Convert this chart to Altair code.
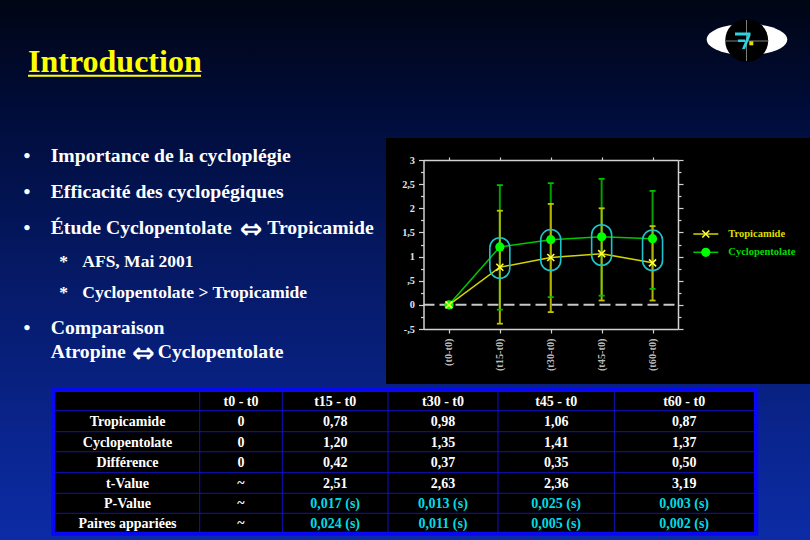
import altair as alt
import pandas as pd

# ---------------- chart data ----------------
time_labels = ["(t0-t0)", "(t15-t0)", "(t30-t0)", "(t45-t0)", "(t60-t0)"]
series_names = ["Tropicamide", "Cyclopentolate"]
tropi_mean = [0.0, 0.78, 0.98, 1.06, 0.87]
cyclo_mean = [0.0, 1.20, 1.35, 1.41, 1.37]
tropi_low = [0.0, -0.39, -0.15, 0.09, 0.09]
tropi_high = [0.0, 1.95, 2.09, 2.00, 1.63]
cyclo_low = [0.0, -0.10, 0.16, 0.19, 0.33]
cyclo_high = [0.0, 2.48, 2.52, 2.61, 2.36]
sig_times = ["(t15-t0)", "(t30-t0)", "(t45-t0)", "(t60-t0)"]
sig_top = [1.39, 1.56, 1.66, 1.55]
sig_bottom = [0.55, 0.71, 0.82, 0.71]
y_tick_values = [-0.5, -0.25, 0, 0.25, 0.5, 0.75, 1, 1.25, 1.5, 1.75, 2, 2.25, 2.5, 2.75, 3]

# ---------------- table data ----------------
table_header = ["t0 - t0", "t15 - t0", "t30 - t0", "t45 - t0", "t60 - t0"]
row_labels = ["Tropicamide", "Cyclopentolate", "Différence", "t-Value", "P-Value", "Paires appariées"]
row_tropi = ["0", "0,78", "0,98", "1,06", "0,87"]
row_cyclo = ["0", "1,20", "1,35", "1,41", "1,37"]
row_diff = ["0", "0,42", "0,37", "0,35", "0,50"]
row_tval = ["~", "2,51", "2,63", "2,36", "3,19"]
row_pval = ["~", "0,017 (s)", "0,013 (s)", "0,025 (s)", "0,003 (s)"]
row_pairs = ["~", "0,024 (s)", "0,011 (s)", "0,005 (s)", "0,002 (s)"]
highlight_rows = ["P-Value", "Paires appariées"]

# ---------------- slide text ----------------
slide_title = "Introduction"
bullet_texts = ["Importance de la cycloplégie", "Efficacité des cyclopégiques",
                "Étude Cyclopentolate ⇔ Tropicamide", "AFS, Mai 2001",
                "Cyclopentolate > Tropicamide", "Comparaison", "Atropine ⇔ Cyclopentolate"]
bullet_marks = ["•", "•", "•", "*", "*", "•", ""]
bullet_level = [0, 0, 0, 1, 1, 0, 0]
ARROW = "⇔"

# ---------------- layout (pixels) ----------------
W, H = 810, 540
PX0, PX1 = 423.5, 678.0
PY_TOP, PY_BOT = 160.0, 329.0
bullet_baselines = [162.3, 198.3, 234.0, 266.7, 298.3, 334.0, 358.3]
arrow_centers = {2: 251.3, 6: 143.5}      # x centre of the arrow glyph, per line
after_arrow_x = {2: 267.3, 6: 157.7}      # x start of the text after the arrow
legend_rows_y = [234.0, 252.3]
col_edges = [55.3, 199.7, 282.3, 388.0, 498.0, 614.3, 754.0]
row_edges = [392.0, 410.7, 431.7, 451.7, 472.7, 493.3, 513.3, 531.7]

FONT = "Liberation Serif"
COL = {
    "Tropicamide": dict(line="#d4d400", err="#b2b200", cap="#c4c400", mark="#ffff3c", text="#dede00"),
    "Cyclopentolate": dict(line="#00c800", err="#00a000", cap="#00c000", mark="#00ff00", text="#00dc00"),
}
CYAN = "#1ec4cc"
AXC = "#d2d2d2"

one = pd.DataFrame({"k": [0]})

# ---------------- background ----------------
bg = alt.Chart(one).mark_rect(
    fill=alt.LinearGradient(
        gradient="linear", x1=0, x2=0, y1=0, y2=1,
        stops=[alt.GradientStop(offset=0, color="#000514"),
               alt.GradientStop(offset=0.22, color="#000d3c"),
               alt.GradientStop(offset=0.55, color="#061b6c"),
               alt.GradientStop(offset=1, color="#0c2ca6")])
).encode(x=alt.value(0), x2=alt.value(W), y=alt.value(0), y2=alt.value(H))

title = alt.Chart(one).mark_text(
    text=slide_title, font=FONT, fontSize=32, fontWeight="bold", color="#ffff00",
    align="left", baseline="alphabetic").encode(x=alt.value(28), y=alt.value(72))
underline = alt.Chart(one).mark_rule(color="#ffff00", strokeWidth=2).encode(
    x=alt.value(28), x2=alt.value(201), y=alt.value(75.7))

# bullets: split the lines that contain the double arrow
seg_rows, arrow_rows, mark_rows = [], [], []
for i, (txt, mk, lv) in enumerate(zip(bullet_texts, bullet_marks, bullet_level)):
    fs = 19.7 if lv == 0 else 17.5
    x0 = 50.7 if lv == 0 else 82.3
    yb = bullet_baselines[i]
    if mk:
        mark_rows.append({"text": mk, "x": 27.0 if lv == 0 else 63.5, "y": yb, "fs": fs})
    if ARROW in txt:
        left, right = [s.strip() for s in txt.split(ARROW)]
        seg_rows.append({"text": left, "x": x0, "y": yb, "fs": fs})
        seg_rows.append({"text": right, "x": after_arrow_x[i], "y": yb, "fs": fs})
        arrow_rows.append({"text": ARROW, "x": arrow_centers[i], "y": yb + 3.5})
    else:
        seg_rows.append({"text": txt, "x": x0, "y": yb, "fs": fs})

bullets_text = alt.Chart(pd.DataFrame(seg_rows)).mark_text(
    font=FONT, fontWeight="bold", color="white", align="left", baseline="alphabetic"
).encode(x=alt.X("x:Q", scale=None), y=alt.Y("y:Q", scale=None),
         text="text:N", size=alt.Size("fs:Q", scale=None, legend=None))
bullets_mark = alt.Chart(pd.DataFrame(mark_rows)).mark_text(
    font=FONT, fontWeight="bold", color="white", align="center", baseline="alphabetic"
).encode(x=alt.X("x:Q", scale=None), y=alt.Y("y:Q", scale=None),
         text="text:N", size=alt.Size("fs:Q", scale=None, legend=None))
bullets_arrow = alt.Chart(pd.DataFrame(arrow_rows)).mark_text(
    font="DejaVu Sans", fontWeight="bold", fontSize=27, color="white", align="center",
    baseline="alphabetic"
).encode(x=alt.X("x:Q", scale=None), y=alt.Y("y:Q", scale=None), text="text:N")

# ---------------- logo ----------------
ELLIPSE = "M-1,0A1,0.39,0,1,0,1,0A1,0.39,0,1,0,-1,0Z"
GLYPH = ("M-12,-8.5L3.5,-8.5L3.5,-5.5L-12,-5.5Z"
         "M0.5,-5.5L3.5,-5.5L-2,8L-5,8Z"
         "M-9,-1.5L-2,-1.5L-2,1L-9,1Z")
logo_ell = alt.Chart(one).mark_point(shape=ELLIPSE, filled=True, color="#ffffff", opacity=1,
                                     size=6497).encode(x=alt.value(747), y=alt.value(39.5))
logo_disc = alt.Chart(one).mark_point(shape="circle", filled=True, color="#000000", opacity=1,
                                      size=43 * 43).encode(x=alt.value(746.7), y=alt.value(40.5))
logo_v = alt.Chart(one).mark_rule(color="#7c7c7c", strokeWidth=1).encode(
    x=alt.value(746.5), y=alt.value(20), y2=alt.value(61))
logo_h = alt.Chart(one).mark_rule(color="#7c7c7c", strokeWidth=1).encode(
    x=alt.value(725), x2=alt.value(768.5), y=alt.value(41))
logo_glyph = alt.Chart(one).mark_point(shape=GLYPH, filled=True, color="#2ad2e2", opacity=1,
                                       size=4).encode(x=alt.value(747), y=alt.value(41))
logo_dot = alt.Chart(one).mark_point(shape="square", filled=True, color="#e8dc00", opacity=1,
                                     size=16).encode(x=alt.value(751.3), y=alt.value(43.3))

# ---------------- chart panel ----------------
panel = alt.Chart(one).mark_rect(fill="#000000").encode(
    x=alt.value(386), x2=alt.value(W), y=alt.value(138), y2=alt.value(384))

rows = []
for name, mean, lo, hi in [("Tropicamide", tropi_mean, tropi_low, tropi_high),
                           ("Cyclopentolate", cyclo_mean, cyclo_low, cyclo_high)]:
    for i, (t, m, l, h) in enumerate(zip(time_labels, mean, lo, hi)):
        rows.append({"time": t, "idx": i, "series": name, "mean": m, "lo": l, "hi": h})
df = pd.DataFrame(rows)
tro = df[df.series == "Tropicamide"]
cyc = df[df.series == "Cyclopentolate"]
tro_err = tro[tro.hi > tro.lo]
cyc_err = cyc[cyc.hi > cyc.lo]
sig_df = pd.DataFrame({"time": sig_times, "top": sig_top, "bottom": sig_bottom})

xs = alt.Scale(type="point", domain=time_labels, range=[PX0, PX1], padding=0.5)
ys = alt.Scale(domain=[-0.5, 3], range=[PY_BOT, PY_TOP], nice=False, zero=False)


def xenc(axis=None):
    return alt.X("time:N", scale=xs, axis=axis, title=None)


def yenc(field, axis=None):
    return alt.Y(f"{field}:Q", scale=ys, axis=axis, title=None)


tick_len = {"condition": {"test": "datum.value % 0.5 != 0", "value": 3}, "value": 5}
axis_left = alt.Axis(
    orient="left", offset=-PX0, values=y_tick_values, grid=False, title=None, zindex=2,
    labelExpr="datum.value % 0.5 != 0 ? '' : replace(replace(toString(datum.value), '0.', '.'), '.', ',')",
    labelFont=FONT, labelFontWeight="bold", labelFontSize=10.3, labelColor="#e4e4e4",
    labelPadding=4, labelFlush=False, labelOverlap=False, labelBound=False,
    tickSize=tick_len, tickColor=AXC, tickWidth=1.2, domainColor=AXC, domainWidth=1.5)
axis_bottom = alt.Axis(
    orient="bottom", offset=-(H - PY_BOT), grid=False, title=None, labelAngle=-90, zindex=2,
    labelFont=FONT, labelFontWeight="bold", labelFontSize=10.3, labelColor="#bcbcbc",
    labelPadding=5, labelOverlap=False, labelBound=False,
    tickSize=4, tickColor=AXC, tickWidth=1.2, domainColor=AXC, domainWidth=1.5)
axis_top = alt.Axis(
    orient="top", offset=-PY_TOP, grid=False, title=None, labels=False, zindex=2,
    tickSize=3, tickColor=AXC, tickWidth=1.2, domainColor=AXC, domainWidth=1.5)
axis_right = alt.Axis(
    orient="right", offset=-(W - PX1), values=y_tick_values, grid=False, title=None, labels=False,
    zindex=2, tickSize=tick_len, tickColor=AXC, tickWidth=1.2, domainColor=AXC, domainWidth=1.5)

zero_line = alt.Chart(one).mark_rule(color="#c8c8c8", strokeWidth=2, strokeDash=[11, 5]).encode(
    x=alt.value(PX0), x2=alt.value(PX1),
    y=alt.Y(datum=0, type="quantitative", scale=ys, axis=None))

err_c = alt.Chart(cyc_err).mark_rule(color=COL["Cyclopentolate"]["err"], strokeWidth=2).encode(
    x=xenc(), y=yenc("lo"), y2="hi:Q")
err_t = alt.Chart(tro_err).mark_rule(color=COL["Tropicamide"]["err"], strokeWidth=2).encode(
    x=xenc(), y=yenc("lo"), y2="hi:Q")
cap_c = alt.Chart(cyc_err).transform_fold(["lo", "hi"], as_=["end", "v"]).mark_tick(
    color=COL["Cyclopentolate"]["cap"], size=6, thickness=1.8, orient="horizontal", opacity=1
).encode(x=xenc(), y=yenc("v"))
cap_t = alt.Chart(tro_err).transform_fold(["lo", "hi"], as_=["end", "v"]).mark_tick(
    color=COL["Tropicamide"]["cap"], size=6, thickness=1.8, orient="horizontal", opacity=1
).encode(x=xenc(), y=yenc("v"))

line_c = alt.Chart(cyc).mark_line(color=COL["Cyclopentolate"]["line"], strokeWidth=1.5).encode(
    x=xenc(axis_bottom), y=yenc("mean", axis_left), order="idx:Q")
line_t = alt.Chart(tro).mark_line(color=COL["Tropicamide"]["line"], strokeWidth=1.5).encode(
    x=xenc(axis_top), y=yenc("mean", axis_right), order="idx:Q")

capsules = alt.Chart(sig_df).mark_bar(
    size=20, cornerRadius=10, fillOpacity=0, stroke=CYAN, strokeWidth=1.6
).encode(x=xenc(), y=yenc("bottom"), y2="top:Q")

X_SHAPE = "M-1,-1L1,1M-1,1L1,-1"
pts_c = alt.Chart(cyc).mark_point(shape="circle", filled=True, size=85, opacity=1,
                                  color=COL["Cyclopentolate"]["mark"]).encode(x=xenc(), y=yenc("mean"))
pts_t = alt.Chart(tro).mark_point(shape=X_SHAPE, filled=False, size=49, opacity=1, strokeWidth=1.6,
                                  color=COL["Tropicamide"]["mark"]).encode(x=xenc(), y=yenc("mean"))

# legend (manual)
leg = pd.DataFrame({"series": series_names, "y": legend_rows_y,
                    "line": [COL[s]["line"] for s in series_names],
                    "text": [COL[s]["text"] for s in series_names],
                    "x0": [693.3, 693.3], "x1": [718.3, 718.3], "xm": [705.8, 705.8], "xt": [728.3, 728.3]})
leg_rule = alt.Chart(leg).mark_rule(strokeWidth=1.5).encode(
    x=alt.X("x0:Q", scale=None), x2="x1:Q", y=alt.Y("y:Q", scale=None),
    color=alt.Color("line:N", scale=None))
leg_c = alt.Chart(leg[leg.series == "Cyclopentolate"]).mark_point(
    shape="circle", filled=True, size=85, opacity=1, color=COL["Cyclopentolate"]["mark"]
).encode(x=alt.X("xm:Q", scale=None), y=alt.Y("y:Q", scale=None))
leg_t = alt.Chart(leg[leg.series == "Tropicamide"]).mark_point(
    shape=X_SHAPE, filled=False, size=49, opacity=1, strokeWidth=1.6, color=COL["Tropicamide"]["mark"]
).encode(x=alt.X("xm:Q", scale=None), y=alt.Y("y:Q", scale=None))
leg_text = alt.Chart(leg).mark_text(
    font=FONT, fontWeight="bold", fontSize=10.5, align="left", baseline="middle"
).encode(x=alt.X("xt:Q", scale=None), y=alt.Y("y:Q", scale=None), text="series:N",
         color=alt.Color("text:N", scale=None))

# ---------------- table ----------------
tbl_border = alt.Chart(one).mark_rect(fill="#0808f4").encode(
    x=alt.value(51.3), x2=alt.value(758.3), y=alt.value(388), y2=alt.value(535.7))
tbl_inner = alt.Chart(one).mark_rect(fill="#000000").encode(
    x=alt.value(col_edges[0]), x2=alt.value(col_edges[-1]),
    y=alt.value(row_edges[0]), y2=alt.value(row_edges[-1]))

grid_rows = []
for ye in row_edges[1:-1]:
    grid_rows.append({"x": col_edges[0], "x2": col_edges[-1], "y": ye, "y2": ye})
for xe in col_edges[1:-1]:
    grid_rows.append({"x": xe, "x2": xe, "y": row_edges[0], "y2": row_edges[-1]})
tbl_grid = alt.Chart(pd.DataFrame(grid_rows)).mark_rule(color="#1010c8", strokeWidth=1).encode(
    x=alt.X("x:Q", scale=None), x2="x2:Q", y=alt.Y("y:Q", scale=None), y2="y2:Q")

col_centers = [(a + b) / 2 for a, b in zip(col_edges[:-1], col_edges[1:])]
row_centers = [(a + b) / 2 for a, b in zip(row_edges[:-1], row_edges[1:])]
cells = []
for j, h in enumerate(table_header):
    cells.append({"text": h, "x": col_centers[j + 1], "y": row_centers[0], "c": "#ffffff"})
for i, (lab, vals) in enumerate(zip(row_labels, [row_tropi, row_cyclo, row_diff, row_tval, row_pval, row_pairs])):
    cells.append({"text": lab, "x": col_centers[0], "y": row_centers[i + 1], "c": "#ffffff"})
    for j, v in enumerate(vals):
        col = "#00dce4" if (lab in highlight_rows and v != "~") else "#ffffff"
        cells.append({"text": v, "x": col_centers[j + 1], "y": row_centers[i + 1], "c": col})
tbl_text = alt.Chart(pd.DataFrame(cells)).mark_text(
    font=FONT, fontWeight="bold", fontSize=14, align="center", baseline="middle", dy=1
).encode(x=alt.X("x:Q", scale=None), y=alt.Y("y:Q", scale=None), text="text:N",
         color=alt.Color("c:N", scale=None))

chart = alt.layer(
    bg, title, underline, bullets_mark, bullets_text, bullets_arrow,
    logo_ell, logo_disc, logo_v, logo_h, logo_glyph, logo_dot,
    panel, zero_line, err_c, err_t, cap_c, cap_t, line_c, line_t, capsules, pts_c, pts_t,
    leg_rule, leg_c, leg_t, leg_text,
    tbl_border, tbl_inner, tbl_grid, tbl_text,
).resolve_scale(x="independent", y="independent").properties(
    width=W, height=H, padding=0, autosize=alt.AutoSizeParams(type="none")
).configure_view(stroke=None)

chart.save("out.html", embed_options={"renderer": "svg", "actions": False})
